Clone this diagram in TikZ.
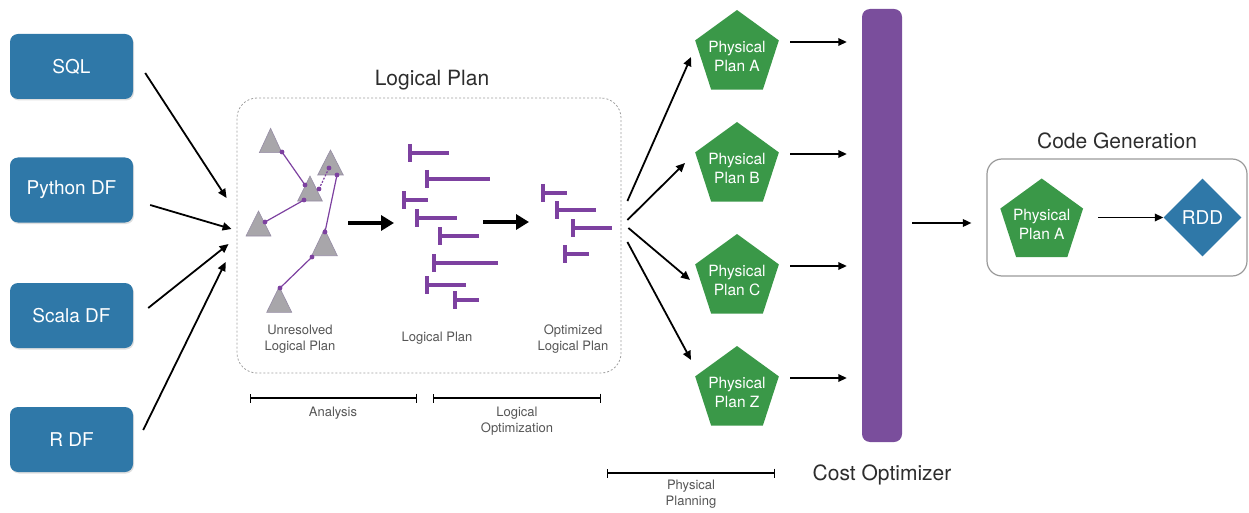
\documentclass[tikz,border=0pt]{standalone}
\usepackage{fontspec}
\setmainfont{TeX Gyre Heros}
\usetikzlibrary{arrows.meta,shapes.geometric,calc,shadows}

\definecolor{srcblue}{RGB}{47,120,168}
\definecolor{plangreen}{RGB}{58,152,72}
\definecolor{optpurple}{RGB}{122,78,156}
\definecolor{treepurple}{RGB}{125,65,160}
\definecolor{trigray}{RGB}{168,166,170}
\definecolor{triedge}{RGB}{150,140,165}
\definecolor{labelgray}{RGB}{85,85,85}
\definecolor{titlegray}{RGB}{45,45,45}

\tikzset{
  srcbox/.style={rectangle, rounded corners=8pt, fill=srcblue, minimum width=123pt,
    minimum height=65pt, text=white, font=\fontsize{19}{22}\selectfont,
    drop shadow={opacity=0.25, shadow xshift=1pt, shadow yshift=-1.5pt}},
  physplan/.style={regular polygon, regular polygon sides=5, minimum size=88pt,
    inner sep=0pt, outer sep=0pt, fill=plangreen},
  plantext/.style={text=white, align=center, inner sep=0pt,
    font=\fontsize{15.5}{19}\selectfont},
  arr/.style={-{Triangle[length=9pt,width=8pt]}, line width=1.8pt, black},
  thinarr/.style={-{Triangle[length=8.5pt,width=7.5pt]}, line width=1.7pt, black},
  bigarr/.style={-{Triangle[length=13pt,width=15pt]}, line width=3.5pt, black},
  brk/.style={{Bar[width=9pt]}-{Bar[width=9pt]}, line width=1.4pt, black},
  title/.style={text=titlegray, font=\fontsize{21}{25}\selectfont},
  small/.style={text=labelgray, align=center, font=\fontsize{13}{16}\selectfont},
  tri/.style={fill=trigray, draw=triedge, line width=0.6pt},
  link/.style={treepurple, line width=1.2pt},
  tb/.style={treepurple, line width=3.6pt},
}
\newcommand\tbar[3]{\draw[tb] (#1,#2-9) -- (#1,#2+9) (#1,#2) -- (#3,#2);}
\newcommand\jdot[1]{\fill[treepurple] (#1) circle (2.4pt);}

\begin{document}
\begin{tikzpicture}[x=1pt,y=-1pt]
\useasboundingbox (0,0) rectangle (1249,513);

% ---------- input front ends ----------
\node[srcbox] (sql) at (71.5,66.5) {SQL};
\node[srcbox] (py)  at (71.5,190)  {Python DF};
\node[srcbox] (sc)  at (71.5,315.5) {Scala DF};
\node[srcbox] (rdf) at (71.5,439.5) {R DF};

% ---------- logical plan stage ----------
\node[draw=gray!75, dash pattern=on 2pt off 2pt, rounded corners=20pt,
      minimum width=384pt, minimum height=275pt, line width=0.8pt] (lp) at (429,235.5) {};
\node[title] (lptitle) at (432,80) {Logical Plan};

\draw[arr] ($(sql.east)+(12,6.5)$) -- ($(lp.west)+(-10,-37.5)$);
\draw[arr] ($(py.east)+(17,15)$)   -- ($(lp.west)+(-5,-6.5)$);
\draw[arr] ($(sc.east)+(15,-7.5)$) -- ($(lp.west)+(-8,8.5)$);
\draw[arr] ($(rdf.east)+(10,-9.5)$) -- ($(lp.west)+(-11,26.5)$);

% unresolved tree of triangles
\filldraw[tri] (270.6,128.3) -- (259.3,152.7) -- (281.9,152.7) -- cycle;
\filldraw[tri] (310,176) -- (297.7,201) -- (322.3,201) -- cycle;
\filldraw[tri] (330.5,150) -- (317.7,175) -- (343.3,175) -- cycle;
\filldraw[tri] (258.5,211) -- (246,236) -- (271,236) -- cycle;
\filldraw[tri] (324.5,229) -- (311.7,255.7) -- (337.3,255.7) -- cycle;
\filldraw[tri] (279.2,286.7) -- (266.7,312.3) -- (291.7,312.3) -- cycle;

\coordinate (a1) at (282,152);  \coordinate (a2) at (305,185);
\coordinate (b1) at (304,200);  \coordinate (b2) at (265,222);
\coordinate (c1) at (319,189);  \coordinate (c2) at (329,168);
\coordinate (d1) at (337,175);  \coordinate (d2) at (325,232);
\coordinate (e1) at (312,257);  \coordinate (e2) at (280,288);
\draw[link] (a1) -- (a2);
\draw[link] (b1) -- (b2);
\draw[link, dash pattern=on 2pt off 1.5pt] (c1) -- (c2);
\draw[link] (d1) -- (d2);
\draw[link] (e1) -- (e2);
\foreach \p in {a1,a2,b1,b2,c1,c2,d1,d2,e1,e2} {\jdot{\p}}

% analysed logical plan
\tbar{410}{153}{449}
\tbar{426.7}{179}{490}
\tbar{404}{200}{428}
\tbar{417}{218}{457}
\tbar{440}{236}{479}
\tbar{434}{263}{498}
\tbar{427}{285}{466}
\tbar{455}{300}{479}

% optimized logical plan
\tbar{543}{193}{567}
\tbar{557}{210}{596}
\tbar{573}{228}{612}
\tbar{565}{254}{589}

\coordinate (s1a) at (348,223); \coordinate (s1b) at (394,223);
\coordinate (s2a) at (483,222); \coordinate (s2b) at (529,222);
\draw[bigarr] (s1a) -- (s1b);
\draw[bigarr] (s2a) -- (s2b);

\node[small] (lu) at (300,339) {Unresolved\\Logical Plan};
\node[small] (ll) at (437,338) {Logical Plan};
\node[small] (lo) at (573,339) {Optimized\\Logical Plan};

% phase brackets
\coordinate (an1) at (250,398); \coordinate (an2) at (417,398);
\coordinate (lo1) at (433,398); \coordinate (lo2) at (601,398);
\coordinate (pp1) at (607,473); \coordinate (pp2) at (775,473);
\draw[brk] (an1) -- (an2);
\draw[brk] (lo1) -- (lo2);
\draw[brk] (pp1) -- (pp2);
\node[small] (anl) at (333,413) {Analysis};
\node[small] (lol) at (517,421.5) {Logical\\Optimization};
\node[small] (ppl) at (691,494) {Physical\\Planning};

% ---------- physical planning ----------
\node[physplan] (pA) at (737,54)  {};
\node[physplan] (pB) at (737,166) {};
\node[physplan] (pC) at (737,278) {};
\node[physplan] (pZ) at (737,390) {};
\node[plantext] (tA) at (737,56)  {Physical\\Plan A};
\node[plantext] (tB) at (737,168) {Physical\\Plan B};
\node[plantext] (tC) at (737,280) {Physical\\Plan C};
\node[plantext] (tZ) at (737,392) {Physical\\Plan Z};

\draw[arr] ($(lp.east)+(6,-34.5)$) -- ($(pA.center)+(-46,3)$);
\draw[arr] ($(lp.east)+(6,-15.5)$) -- ($(pB.center)+(-52,-3)$);
\draw[arr] ($(lp.east)+(7,-7.5)$)  -- ($(pC.center)+(-47,2)$);
\draw[arr] ($(lp.east)+(6,6.5)$)   -- ($(pZ.center)+(-46,-30)$);

% ---------- cost optimizer ----------
\node[fill=optpurple, rounded corners=8pt, minimum width=40pt, minimum height=433pt,
      inner sep=0pt] (bar) at (882,225.5) {};
\node[title] (cotitle) at (882,475) {Cost Optimizer};

\foreach \p in {pA,pB,pC,pZ}
  \draw[thinarr] ($(\p.center)+(53,-12)$) -- ($(bar.west |- \p.center)+(-15,-12)$);

% ---------- code generation ----------
\node[draw=gray!80, line width=1.2pt, rounded corners=15pt, minimum width=260pt,
      minimum height=117pt] (cg) at (1117,217.5) {};
\node[title] (cgtitle) at (1117,141) {Code Generation};
\node[physplan, minimum size=87pt] (pfin) at (1041.7,222) {};
\node[plantext] (tfin) at (1041.7,224) {Physical\\Plan A};
\node[diamond, fill=srcblue, minimum width=78pt, minimum height=78pt, inner sep=0pt,
      text=white, font=\fontsize{19}{22}\selectfont] (rdd) at (1202.5,217.5) {RDD};

\draw[thinarr] ($(bar.east)+(10,-2.5)$) -- ($(cg.west)+(-15,5.5)$);
\draw[thinarr] ($(pfin.center)+(56.5,-4.5)$) -- (rdd.west);
\end{tikzpicture}
\end{document}
